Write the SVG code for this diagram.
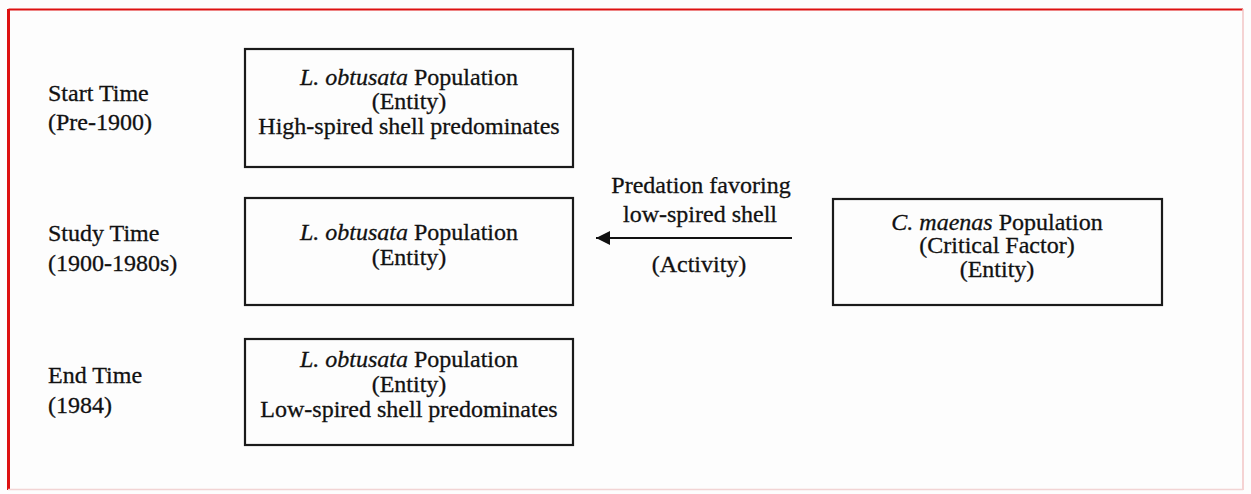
<svg xmlns="http://www.w3.org/2000/svg" width="1251" height="494" viewBox="0 0 1251 494">
<style>
text{font-family:"Liberation Serif","Times New Roman",serif;font-size:24px;fill:#111;stroke:#111;stroke-width:0.3}
.c{text-anchor:middle}
.box{fill:none;stroke:#1a1a1a;stroke-width:2.2}
.it{font-style:italic}
</style>
<defs>
<marker id="ah" viewBox="0 0 10 10" refX="10" refY="5" markerWidth="15" markerHeight="14" markerUnits="userSpaceOnUse" orient="auto">
<path d="M0,0 L10,5 L0,10 Z" fill="#111"/>
</marker>
</defs>
<rect width="1251" height="494" fill="#fdfdfd"/>
<line x1="8.5" y1="9.5" x2="1243" y2="9.5" stroke="#dd1111" stroke-width="2"/>
<line x1="8.5" y1="9" x2="8.5" y2="490" stroke="#dd1111" stroke-width="3"/>
<line x1="1243" y1="9" x2="1243" y2="490" stroke="#f2c4c4" stroke-width="1.5"/>
<line x1="8" y1="489.5" x2="1243" y2="489.5" stroke="#f2d4d4" stroke-width="1.5"/>

<g id="label-start">
<text x="48" y="101">Start Time</text>
<text x="48" y="130">(Pre-1900)</text>
</g>
<g id="label-study">
<text x="48" y="241">Study Time</text>
<text x="48" y="271">(1900-1980s)</text>
</g>
<g id="label-end">
<text x="48" y="383">End Time</text>
<text x="48" y="413">(1984)</text>
</g>

<g id="node-start">
<rect class="box" x="245" y="49" width="328" height="118"/>
<text class="c" x="409" y="85"><tspan class="it">L. obtusata</tspan> Population</text>
<text class="c" x="409" y="109">(Entity)</text>
<text class="c" x="409" y="134">High-spired shell predominates</text>
</g>
<g id="node-study">
<rect class="box" x="245" y="198" width="328" height="107"/>
<text class="c" x="409" y="240"><tspan class="it">L. obtusata</tspan> Population</text>
<text class="c" x="409" y="265">(Entity)</text>
</g>
<g id="node-end">
<rect class="box" x="245" y="339" width="328" height="106"/>
<text class="c" x="409" y="367"><tspan class="it">L. obtusata</tspan> Population</text>
<text class="c" x="409" y="392">(Entity)</text>
<text class="c" x="409" y="417">Low-spired shell predominates</text>
</g>
<g id="node-crab">
<rect class="box" x="833" y="199" width="329" height="106"/>
<text class="c" x="997" y="230"><tspan class="it">C. maenas</tspan> Population</text>
<text class="c" x="997" y="253">(Critical Factor)</text>
<text class="c" x="997" y="277">(Entity)</text>
</g>

<g id="connectors">
<line x1="792" y1="238" x2="596" y2="238" stroke="#111" stroke-width="2" marker-end="url(#ah)"/>
<text class="c" x="701" y="193">Predation favoring</text>
<text class="c" x="700" y="222">low-spired shell</text>
<text class="c" x="699" y="272">(Activity)</text>
</g>
</svg>
